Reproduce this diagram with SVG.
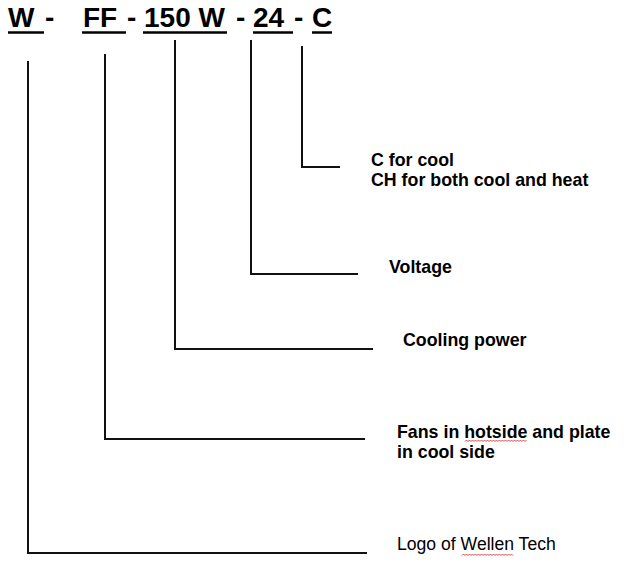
<svg xmlns="http://www.w3.org/2000/svg" width="639" height="564" viewBox="0 0 639 564">
  <style>
    .code { font-family: "Liberation Sans", Arial, sans-serif; font-weight: bold; font-size: 28px; fill: #000; }
    .lbl { font-family: "Liberation Sans", Arial, sans-serif; font-weight: bold; font-size: 17.8px; fill: #000; }
    .reg { font-family: "Liberation Sans", Arial, sans-serif; font-size: 17.6px; fill: #000; }
    .ul { stroke: #000; stroke-width: 2.5; fill: none; }
    .conn { stroke: #111; stroke-width: 2; fill: none; }
    .spell { stroke: #d02020; stroke-width: 0.8; fill: none; }
  </style>
  <rect width="639" height="564" fill="#fff"/>
  <g id="code">
    <g id="part-w">
      <text class="code" x="8" y="27">W</text>
      <line class="ul" x1="8" y1="32.5" x2="44" y2="32.5"/>
    </g>
    <text class="code" x="45" y="27">-</text>
    <g id="part-ff">
      <text class="code" x="83" y="27">FF</text>
      <line class="ul" x1="82" y1="32.5" x2="126" y2="32.5"/>
    </g>
    <text class="code" x="127" y="27">-</text>
    <g id="part-150w">
      <text class="code" x="144" y="27">150 W</text>
      <line class="ul" x1="143" y1="32.5" x2="227" y2="32.5"/>
    </g>
    <text class="code" x="236" y="27">-</text>
    <g id="part-24">
      <text class="code" x="253" y="27">24</text>
      <line class="ul" x1="253" y1="32.5" x2="293" y2="32.5"/>
    </g>
    <text class="code" x="294" y="27">-</text>
    <g id="part-c">
      <text class="code" x="312" y="27">C</text>
      <line class="ul" x1="312" y1="32.5" x2="332" y2="32.5"/>
    </g>
  </g>
  <g id="connectors">
    <polyline class="conn" points="28,61 28,553 367,553"/>
    <polyline class="conn" points="105,54 105,439 365,439"/>
    <polyline class="conn" points="175,40 175,349 373,349"/>
    <polyline class="conn" points="251,40 251,274 358,274"/>
    <polyline class="conn" points="302,46 302,167 340,167"/>
  </g>
  <g id="label-c">
    <text class="lbl" x="371" y="166">C for cool</text>
    <text class="lbl" x="371" y="186">CH for both cool and heat</text>
  </g>
  <g id="label-voltage">
    <text class="lbl" x="389" y="273">Voltage</text>
  </g>
  <g id="label-cooling">
    <text class="lbl" x="403" y="346">Cooling power</text>
  </g>
  <g id="label-fans">
    <text class="lbl" x="397" y="438">Fans in hotside and plate</text>
    <text class="lbl" x="397" y="458">in cool side</text>
    <path class="spell" d="M465,441.5 l1.5,-1.5 l1.5,1.5 l1.5,-1.5 l1.5,1.5 l1.5,-1.5 l1.5,1.5 l1.5,-1.5 l1.5,1.5 l1.5,-1.5 l1.5,1.5 l1.5,-1.5 l1.5,1.5 l1.5,-1.5 l1.5,1.5 l1.5,-1.5 l1.5,1.5 l1.5,-1.5 l1.5,1.5 l1.5,-1.5 l1.5,1.5 l1.5,-1.5 l1.5,1.5 l1.5,-1.5 l1.5,1.5 l1.5,-1.5 l1.5,1.5 l1.5,-1.5 l1.5,1.5 l1.5,-1.5 l1.5,1.5 l1.5,-1.5 l1.5,1.5 l1.5,-1.5 l1.5,1.5 l1.5,-1.5 l1.5,1.5 l1.5,-1.5 l1.5,1.5 l1.5,-1.5 l1.5,1.5 l1.5,-1.5"/>
  </g>
  <g id="label-logo">
    <text class="reg" x="397" y="550">Logo of Wellen Tech</text>
    <path class="spell" d="M462,555.5 l1.5,-1.5 l1.5,1.5 l1.5,-1.5 l1.5,1.5 l1.5,-1.5 l1.5,1.5 l1.5,-1.5 l1.5,1.5 l1.5,-1.5 l1.5,1.5 l1.5,-1.5 l1.5,1.5 l1.5,-1.5 l1.5,1.5 l1.5,-1.5 l1.5,1.5 l1.5,-1.5 l1.5,1.5 l1.5,-1.5 l1.5,1.5 l1.5,-1.5 l1.5,1.5 l1.5,-1.5 l1.5,1.5 l1.5,-1.5 l1.5,1.5 l1.5,-1.5 l1.5,1.5 l1.5,-1.5 l1.5,1.5 l1.5,-1.5 l1.5,1.5 l1.5,-1.5 l1.5,1.5"/>
  </g>
</svg>
